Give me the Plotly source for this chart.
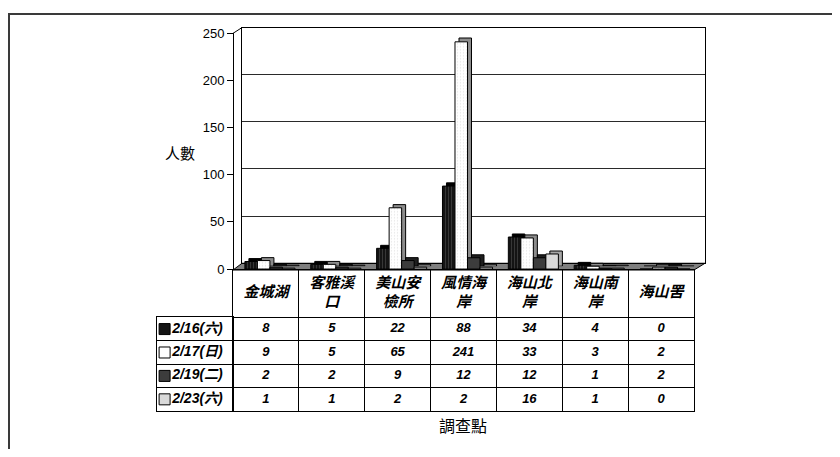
import plotly.graph_objects as go

# ---------------- data ----------------
categories = ["金城湖", "客雅溪口", "美山安檢所", "風情海岸", "海山北岸", "海山南岸", "海山罟"]
header_labels = ["金城湖", "客雅溪<br>口", "美山安<br>檢所", "風情海<br>岸", "海山北<br>岸", "海山南<br>岸", "海山罟"]
series_names = ["2/16(六)", "2/17(日)", "2/19(二)", "2/23(六)"]
s_0216 = [8, 5, 22, 88, 34, 4, 0]
s_0217 = [9, 5, 65, 241, 33, 3, 2]
s_0219 = [2, 2, 9, 12, 12, 1, 2]
s_0223 = [1, 1, 2, 2, 16, 1, 0]
y_ticks = [0, 50, 100, 150, 200, 250]
y_title = "人數"
x_title = "調查點"

series_values = [s_0216, s_0217, s_0219, s_0223]

# ---------------- styles ----------------
# page body has an 8px margin, so the figure is 16px smaller than the window
OFF = 8
W, H = 840 - 2 * OFF, 457 - 2 * OFF
FONT = "Liberation Sans, Arial, Noto Sans CJK TC, sans-serif"
fill_colors = ["#141414", "#ffffff", "#3c3c3c", "#d9d9d9"]
side_colors = ["#000000", "#8c8c8c", "#1e1e1e", "#a6a6a6"]
patterns = [dict(shape="|", fgcolor="#5a5a5a", size=3, solidity=0.35),
            dict(shape=".", fgcolor="#c8c8c8", size=3, solidity=0.15),
            dict(shape=""), dict(shape="")]


def px(x):
    return (x - OFF) / W


def py(y):
    return 1 - (y - OFF) / H


fig = go.Figure()

# back wall (x/y)
fig.add_trace(go.Scatter(x=[0.5], y=[0], mode="markers", marker=dict(opacity=0),
                         xaxis="x", yaxis="y", hoverinfo="skip", showlegend=False))

# bar side/top faces (x2/y2) drawn first
for i, vals in enumerate(series_values):
    fig.add_trace(go.Bar(x=categories, y=vals, name=series_names[i], xaxis="x2", yaxis="y2",
                         marker=dict(color=side_colors[i], line=dict(color="#000", width=1)),
                         showlegend=False, hoverinfo="skip"))

# bar front faces (x3/y3)
for i, vals in enumerate(series_values):
    fig.add_trace(go.Bar(x=categories, y=vals, name=series_names[i], xaxis="x3", yaxis="y3",
                         marker=dict(color=fill_colors[i], line=dict(color="#000", width=1),
                                     pattern=patterns[i]),
                         showlegend=False))

# data table (x5/y5)
fig.add_trace(go.Scatter(x=categories, y=[1] * len(categories), mode="text",
                         text=[f"<b><i>{h}</i></b>" for h in header_labels],
                         textposition="middle center", textfont=dict(size=15, color="#000", family=FONT),
                         xaxis="x5", yaxis="y5", hoverinfo="skip", showlegend=False))
for i, vals in enumerate(series_values):
    fig.add_trace(go.Scatter(x=categories, y=[2.5 + i] * len(categories), mode="text",
                             text=[f"<b><i>{v}</i></b>" for v in vals],
                             textposition="middle center", textfont=dict(size=13, color="#000", family=FONT),
                             xaxis="x5", yaxis="y5", hoverinfo="skip", showlegend=False))

# legend column (x6/y6)
fig.add_trace(go.Scatter(x=[0.1] * 4, y=[0.5 + i for i in range(4)], mode="markers",
                         marker=dict(symbol="square", size=11, color=fill_colors,
                                     line=dict(color="#000", width=1)),
                         xaxis="x6", yaxis="y6", hoverinfo="skip", showlegend=False))
fig.add_trace(go.Scatter(x=[0.2] * 4, y=[0.5 + i for i in range(4)], mode="text",
                         text=[f"<b><i>{n}</i></b>" for n in series_names],
                         textposition="middle right", textfont=dict(size=14, color="#000", family=FONT),
                         xaxis="x6", yaxis="y6", hoverinfo="skip", showlegend=False))

hidden = dict(showgrid=False, zeroline=False, showticklabels=False, ticks="", showline=False)

fig.update_layout(
    width=W, height=H,
    margin=dict(l=0, r=0, t=0, b=0),
    paper_bgcolor="#ffffff", plot_bgcolor="rgba(0,0,0,0)",
    font=dict(family=FONT, size=13, color="#000"),
    barmode="group", bargap=0.24, bargroupgap=0,
    showlegend=False,
    # back wall
    xaxis=dict(domain=[px(242), px(705)], range=[0, 1], anchor="y", showgrid=False, zeroline=False,
               showticklabels=False, ticks="", showline=True, mirror=True, linecolor="#000", linewidth=1),
    yaxis=dict(domain=[py(265), py(21)], range=[0, 250], anchor="x", tickvals=y_ticks, showgrid=True,
               gridcolor="#2a2a2a", gridwidth=1, zeroline=False, showticklabels=False, ticks="",
               showline=True, mirror=True, linecolor="#000", linewidth=1),
    # side faces
    xaxis2=dict(domain=[px(241), px(702)], type="category", categoryorder="array",
                categoryarray=categories, range=[-0.5, 6.5], anchor="y2", **hidden),
    yaxis2=dict(domain=[py(268), py(23)], range=[0, 250], anchor="x2", **hidden),
    # front faces + value axis
    xaxis3=dict(domain=[px(237), px(698)], type="category", categoryorder="array",
                categoryarray=categories, range=[-0.5, 6.5], anchor="y3", **hidden),
    yaxis3=dict(domain=[py(271), py(27)], range=[0, 250], anchor="free", position=px(233),
                tickvals=y_ticks, showgrid=False, zeroline=False, showline=True, linecolor="#000",
                linewidth=1, ticks="outside", ticklen=6, tickcolor="#000",
                tickfont=dict(size=13, family=FONT, color="#000")),
    # table
    xaxis5=dict(domain=[px(233), px(694)], type="category", categoryorder="array",
                categoryarray=categories, range=[-0.5, 6.5], anchor="y5", tickson="boundaries",
                showgrid=True, gridcolor="#000", gridwidth=1, zeroline=False, showticklabels=False,
                ticks="", showline=True, mirror=True, linecolor="#000", linewidth=1),
    yaxis5=dict(domain=[py(418), py(272)], range=[6, 0], anchor="x5", tickvals=[2, 3, 4, 5],
                showgrid=True, gridcolor="#000", gridwidth=1, zeroline=False, showticklabels=False,
                ticks="", showline=True, mirror=True, linecolor="#000", linewidth=1),
    xaxis6=dict(domain=[px(157), px(233)], range=[0, 1], anchor="y6", showgrid=False, zeroline=False,
                showticklabels=False, ticks="", showline=True, mirror=True, linecolor="#000", linewidth=1),
    yaxis6=dict(domain=[py(418), py(321)], range=[4, 0], anchor="x6", tickvals=[1, 2, 3],
                showgrid=True, gridcolor="#000", gridwidth=1, zeroline=False, showticklabels=False,
                ticks="", showline=True, mirror=True, linecolor="#000", linewidth=1),
)

# outer frame
fig.add_shape(type="rect", xref="paper", yref="paper", x0=px(9), y0=py(7), x1=px(880), y1=py(490),
              line=dict(color="#3a3a3a", width=2), fillcolor="rgba(0,0,0,0)", layer="below")
# floor slab
floor = (f"M {px(233)},{py(272)} L {px(694)},{py(272)} L {px(705)},{py(265)} "
         f"L {px(242)},{py(265)} Z")
fig.add_shape(type="path", xref="paper", yref="paper", path=floor, fillcolor="#7f7f7f",
              line=dict(color="#000", width=1), layer="below")
# left wall top edge
fig.add_shape(type="line", xref="paper", yref="paper", x0=px(233), y0=py(27), x1=px(242), y1=py(21),
              line=dict(color="#000", width=1))

fig.add_annotation(text=y_title, xref="paper", yref="paper", x=px(180), y=py(151),
                   xanchor="center", yanchor="middle",
                   showarrow=False, font=dict(size=15, family=FONT, color="#000"))
fig.add_annotation(text=x_title, xref="paper", yref="paper", x=px(463), y=py(434),
                   xanchor="center", yanchor="middle",
                   showarrow=False, font=dict(size=16, family=FONT, color="#000"))

fig.write_html("out.html", config={"displayModeBar": False})
